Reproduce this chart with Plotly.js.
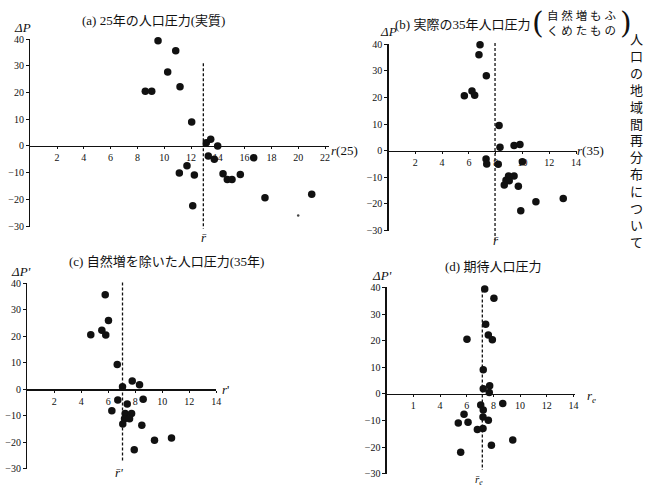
<!DOCTYPE html>
<html><head><meta charset="utf-8">
<script src="https://cdn.plot.ly/plotly-3.0.1.min.js"></script>
<style>body{margin:0;background:#fff}#chart{width:646px;height:489px}</style>
</head><body><div id="chart"></div>
<script>
// ---- data ----
const rA = [8.59, 9.07, 9.54, 10.26, 10.86, 11.18, 12.05, 13.14, 13.47, 13.99, 13.29, 13.74, 11.13, 11.70, 12.25, 12.13, 14.39, 14.71, 15.06, 15.68, 16.68, 17.52, 21.01];
const pA = [20.5, 20.5, 39.4, 27.7, 35.7, 22.2, 9.0, 1.2, 2.5, 0.0, -3.7, -5.0, -10.1, -7.4, -10.9, -22.4, -10.4, -12.5, -12.5, -10.7, -4.4, -19.4, -18.1];
const rSpeck = [20.0];
const pSpeck = [-26.0];

const rB = [6.83, 6.75, 7.30, 6.23, 6.43, 5.66, 8.25, 8.32, 9.37, 9.81, 7.28, 7.33, 8.19, 9.99, 8.96, 9.37, 8.77, 9.01, 8.64, 9.69, 11.00, 13.04, 9.87];
const pB = [39.8, 36.1, 28.2, 22.4, 20.8, 20.7, 9.5, 1.3, 2.0, 2.3, -3.1, -5.0, -5.1, -4.2, -9.5, -9.5, -11.1, -11.3, -12.9, -13.4, -19.2, -18.0, -22.6];

const rC = [6.12, 5.78, 6.02, 5.53, 5.82, 4.71, 6.67, 7.06, 7.78, 8.32, 6.71, 7.41, 8.59, 6.27, 7.26, 7.73, 7.21, 7.58, 7.08, 8.49, 9.43, 10.69, 7.93];
const pC = [40.4, 35.7, 26.0, 22.3, 20.5, 20.6, 9.4, 1.0, 3.1, 1.7, -4.0, -5.5, -3.8, -8.1, -9.1, -9.1, -11.1, -11.1, -13.1, -13.6, -19.2, -18.4, -22.8];

const rD = [7.35, 8.04, 7.42, 7.62, 7.92, 6.02, 7.24, 7.24, 7.72, 7.69, 8.70, 7.05, 7.24, 5.80, 7.22, 7.62, 5.37, 6.10, 6.80, 7.22, 9.45, 7.85, 5.55];
const pD = [39.5, 36.0, 26.2, 22.2, 20.4, 20.6, 9.1, 2.0, 3.1, 0.6, -3.6, -4.1, -6.0, -7.6, -8.6, -9.9, -10.9, -10.6, -13.3, -13.0, -17.3, -19.3, -21.9];

const rBar = [12.92, 7.95, 7.06, 7.17];
const dashTop = [31, 40.5, 40.2, 39];
const dashBottom = [-31, -33.5, -29.5, -32.5];

const yTicks = [-30, -20, -10, 0, 10, 20, 30, 40];
const xTicksA = [2, 4, 6, 8, 10, 12, 14, 16, 18, 20, 22];
const xTicksBCD = [2, 4, 6, 8, 10, 12, 14];
const xTickTextD = ['1', '4', '6', '8', '10', '12', '14'];

// ---- layout helpers ----
const W = 646, H = 489;
const panels = [
  {x0: 30.2, kx: 13.4, xmax: 22.3, y0: 146.0, ky: 2.67},
  {x0: 388.5, kx: 13.4, xmax: 14.1, y0: 150.7, ky: 2.66},
  {x0: 27.2, kx: 13.5, xmax: 14.0, y0: 389.3, ky: 2.65},
  {x0: 386.6, kx: 13.35, xmax: 14.1, y0: 394.0, ky: 2.66}
];
const xs = [rA, rB, rC, rD], ps = [pA, pB, pC, pD];
const xtv = [xTicksA, xTicksBCD, xTicksBCD, xTicksBCD];
const xtt = [xTicksA.map(String), xTicksBCD.map(String), xTicksBCD.map(String), xTickTextD];

const ink = '#111';
const tickFont = {family: 'Liberation Serif, DejaVu Serif, serif', size: 10, color: ink};
const mainR = [-30.2, 40.2], overR = [-40, 45];

const layout = {
  width: W, height: H, margin: {l: 0, r: 0, t: 0, b: 0},
  paper_bgcolor: '#fff', plot_bgcolor: 'rgba(0,0,0,0)', showlegend: false,
  annotations: []
};
const data = [];

function ydom(p, r) {
  const bot = p.y0 - p.ky * r[0], top = p.y0 - p.ky * r[1];
  return [1 - bot / H, 1 - top / H];
}

panels.forEach((p, i) => {
  const n = i + 1, m = i + 5;
  const xd = [p.x0 / W, (p.x0 + p.kx * p.xmax) / W];
  const xk = n === 1 ? 'xaxis' : 'xaxis' + n;
  const yk = n === 1 ? 'yaxis' : 'yaxis' + n;
  const xid = n === 1 ? 'x' : 'x' + n, yid = n === 1 ? 'y' : 'y' + n;
  layout[xk] = {
    domain: xd, range: [0, p.xmax], anchor: 'free', position: 1 - p.y0 / H,
    showline: true, linecolor: ink, linewidth: 1.2, ticks: 'outside', ticklen: 2, tickcolor: ink,
    tickvals: xtv[i], ticktext: xtt[i], tickfont: tickFont, showgrid: false, zeroline: false, fixedrange: true
  };
  layout[yk] = {
    domain: ydom(p, mainR), range: mainR, anchor: xid,
    showline: true, linecolor: ink, linewidth: 1.2, ticks: 'outside', ticklen: 3, tickcolor: ink,
    tickvals: yTicks, tickfont: tickFont, showgrid: false, zeroline: false, fixedrange: true
  };
  layout['xaxis' + m] = {domain: xd, range: [0, p.xmax], anchor: 'y' + m, visible: false, fixedrange: true};
  layout['yaxis' + m] = {domain: ydom(p, overR), range: overR, anchor: 'x' + m, visible: false, fixedrange: true};

  data.push({
    type: 'scatter', mode: 'markers', x: xs[i], y: ps[i], xaxis: xid, yaxis: yid,
    marker: {size: 7.5, color: ink}, cliponaxis: false, hoverinfo: 'skip'
  });
  data.push({
    type: 'scatter', mode: 'lines', x: [rBar[i], rBar[i]], y: [dashTop[i], dashBottom[i]],
    xaxis: 'x' + m, yaxis: 'y' + m, line: {color: ink, width: 1.3, dash: '3px,2px'}, hoverinfo: 'skip'
  });
});
data.push({
  type: 'scatter', mode: 'markers', x: rSpeck, y: pSpeck, xaxis: 'x', yaxis: 'y',
  marker: {size: 2.5, color: '#444'}, hoverinfo: 'skip'
});

function ann(text, px, py, size, opts) {
  layout.annotations.push(Object.assign({
    text: text, x: px / W, y: 1 - py / H, xref: 'paper', yref: 'paper',
    showarrow: false, xanchor: 'center', yanchor: 'middle',
    font: {family: 'Liberation Serif, Noto Sans CJK JP, serif', size: size, color: ink}
  }, opts || {}));
}
// titles
ann('(a) 25年の人口圧力(実質)', 153, 20, 13);
ann('(b) 実際の35年人口圧力', 463, 24, 13);
ann('(', 538, 22, 30, {font: {family: 'DejaVu Serif, serif', size: 30, color: ink}});
ann(')', 626, 22, 30, {font: {family: 'DejaVu Serif, serif', size: 30, color: ink}});
ann('自 然 増 も ふ<br>く め た も の', 582, 23, 11.5);
ann('(c) 自然増を除いた人口圧力(35年)', 166, 261, 13);
ann('(d) 期待人口圧力', 493, 266, 13);
// vertical side text
ann('人<br>口<br>の<br>地<br>域<br>間<br>再<br>分<br>布<br>に<br>つ<br>い<br>て', 636, 140, 13,
    {font: {family: 'Noto Sans CJK JP', size: 13, color: ink}});
// axis labels
const itf = {family: 'Liberation Serif, DejaVu Serif, serif', size: 13, color: ink};
ann('<i>ΔP</i>', 22, 27, 13, {font: itf});
ann('<i>ΔP</i>', 388, 31, 13, {font: itf});
ann("<i>ΔP'</i>", 21, 271, 13, {font: itf});
ann("<i>ΔP'</i>", 382, 275, 13, {font: itf});
const lf = {family: 'Liberation Serif, DejaVu Serif, serif', size: 13, color: ink};
ann('<i>r</i>(25)', 345, 150, 13, {font: lf});
ann('<i>r</i>(35)', 590, 150, 13, {font: lf});
ann("<i>r</i>'", 225, 389, 13, {font: lf});
ann('<i>r<sub>e</sub></i>', 591, 396, 13, {font: lf});
// mean labels
ann('<i>r̄</i>', 204, 237, 12, {font: lf});
ann('<i>r̄</i>', 496, 240, 12, {font: lf});
ann("<i>r̄'</i>", 119, 472, 12, {font: lf});
ann('<i>r̄<sub>e</sub></i>', 479, 480, 11, {font: {family: 'Liberation Serif, DejaVu Serif, serif', size: 11, color: ink}});

Plotly.newPlot('chart', data, layout, {staticPlot: true, displayModeBar: false});
</script></body></html>
